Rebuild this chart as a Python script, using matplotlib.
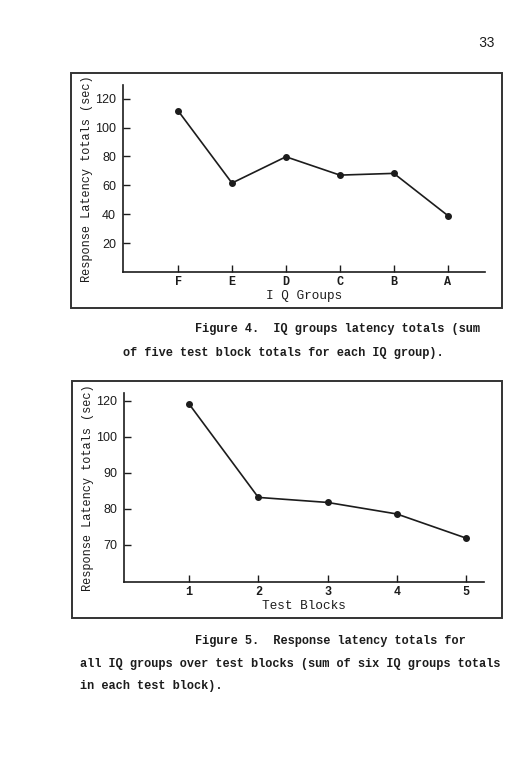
import numpy as np
import matplotlib
matplotlib.use('Agg')
import matplotlib.pyplot as plt
from matplotlib.patches import Rectangle

# figure 4 data: IQ groups latency totals
iq_groups = ['F', 'E', 'D', 'C', 'B', 'A']
iq_totals = [111.7, 61.6, 79.8, 67.1, 68.3, 39.1]

# figure 5 data: latency totals per test block
blocks = [1, 2, 3, 4, 5]
block_totals = [118.3, 83.2, 81.8, 78.6, 71.9]
block_yticks = [70, 80, 90, 100, 120]

ink = '#1c1c1c'
mono = 'Liberation Mono'
sans = 'Liberation Sans'

W, H = 516, 758
fig = plt.figure(figsize = (W / 100, H / 100), dpi = 100)

def fx(px):
    return px / W

def fy(py):
    return 1 - py / H

# page number
fig.text(fx(487), fy(43), '33', fontfamily = mono, fontsize = 10,
         color = ink, ha = 'center', va = 'center')

# frames round both figures
for (x0, y0, x1, y1) in [(71, 73, 502, 308), (72, 381, 502, 618)]:
    fig.add_artist(Rectangle((fx(x0), fy(y1)), fx(x1) - fx(x0), fy(y0) - fy(y1),
                             transform = fig.transFigure, fill = False,
                             edgecolor = '#333333', linewidth = 1.4))

def style_axes(ax):
    ax.spines['top'].set_visible(False)
    ax.spines['right'].set_visible(False)
    for s in ['left', 'bottom']:
        ax.spines[s].set_linewidth(1.2)
        ax.spines[s].set_color(ink)
    ax.tick_params(axis = 'both', direction = 'in', length = 5, width = 1, colors = ink)
    ax.tick_params(axis = 'y', labelsize = 9, pad = 5)
    ax.tick_params(axis = 'x', labelsize = 8.5, pad = 3)
    for lab in ax.get_yticklabels():
        lab.set_fontfamily(sans)
    for lab in ax.get_xticklabels():
        lab.set_fontfamily(mono)
        lab.set_fontweight('bold')
    ax.set_ylabel('Response Latency totals (sec)', fontfamily = mono,
                  fontsize = 8.6, color = ink)
    ax.yaxis.set_label_coords(-0.082, 0.5)

## Figure 4
ax1 = fig.add_axes([fx(123), fy(272), fx(485) - fx(123), fy(85) - fy(272)])
x1 = np.arange(1, len(iq_groups) + 1)
ax1.plot(x1, iq_totals, color = ink, linewidth = 1.2,
         marker = 'o', markersize = 4)
ax1.set_xlim(-0.02, 6.69)
ax1.set_ylim(0, 129.5)
ax1.set_yticks([20, 40, 60, 80, 100, 120])
ax1.set_xticks(x1)
ax1.set_xticklabels(iq_groups)
style_axes(ax1)
ax1.set_xlabel('I Q Groups', fontfamily = mono, fontsize = 9.2, color = ink, labelpad = 1)

fig.text(fx(195), fy(329), 'Figure 4.  IQ groups latency totals (sum',
         fontfamily = mono, fontweight = 'bold', fontsize = 8.6, color = ink, va = 'center')
fig.text(fx(123), fy(353), 'of five test block totals for each IQ group).',
         fontfamily = mono, fontweight = 'bold', fontsize = 8.6, color = ink, va = 'center')

## Figure 5 - upper part of the y axis is compressed (100 -> 120 spans one tick step)
def fwd(v):
    v = np.asarray(v, dtype = float)
    return np.where(v <= 100, v, 100 + (v - 100) / 2)

def inv(u):
    u = np.asarray(u, dtype = float)
    return np.where(u <= 100, u, 100 + (u - 100) * 2)

ax2 = fig.add_axes([fx(124), fy(582), fx(484) - fx(124), fy(393) - fy(582)])
ax2.set_yscale('function', functions = (fwd, inv))
ax2.plot(blocks, block_totals, color = ink, linewidth = 1.2,
         marker = 'o', markersize = 4)
ax2.set_xlim(0.06, 5.26)
ax2.set_ylim(59.7, 124.4)
ax2.set_yticks(block_yticks)
ax2.set_yticklabels([str(t) for t in block_yticks])
ax2.yaxis.set_minor_locator(matplotlib.ticker.NullLocator())
ax2.set_xticks(blocks)
ax2.set_xticklabels([str(b) for b in blocks])
style_axes(ax2)
ax2.set_xlabel('Test Blocks', fontfamily = mono, fontsize = 9.2, color = ink, labelpad = 1)

fig.text(fx(195), fy(641), 'Figure 5.  Response latency totals for',
         fontfamily = mono, fontweight = 'bold', fontsize = 8.6, color = ink, va = 'center')
fig.text(fx(80), fy(664), 'all IQ groups over test blocks (sum of six IQ groups totals',
         fontfamily = mono, fontweight = 'bold', fontsize = 8.6, color = ink, va = 'center')
fig.text(fx(80), fy(686), 'in each test block).',
         fontfamily = mono, fontweight = 'bold', fontsize = 8.6, color = ink, va = 'center')

fig.savefig('out.png', dpi = 100)
